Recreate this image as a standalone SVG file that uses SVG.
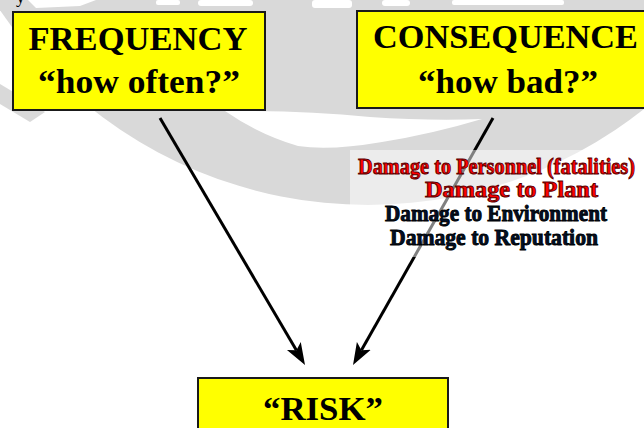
<svg xmlns="http://www.w3.org/2000/svg" width="644" height="428" viewBox="0 0 644 428">
  <defs>
    <style>
      .box { fill: #ffff00; stroke: #1a1a1a; stroke-width: 2; }
      .big { font-family: "Liberation Serif", "Times New Roman", serif; font-weight: bold; font-size: 34px; fill: #000; text-anchor: middle; }
      .dmg { font-family: "Liberation Serif", "Times New Roman", serif; font-weight: bold; font-size: 23px; stroke-width: 0.9; }
      .red { fill: #ff0000; stroke: #5a0000; }
      .dark { fill: #00102a; stroke: #000; }
      .conn { stroke: #000; stroke-width: 3; fill: none; marker-end: url(#head); }
      .wm { fill: #d9d9d9; }
      .wmw { fill: #ffffff; }
    </style>
    <marker id="head" markerUnits="userSpaceOnUse" markerWidth="24" markerHeight="18" viewBox="0 -9 24 18" refX="5" refY="0" orient="auto">
      <path d="M22,0 L0,-8 L5,0 L0,8 Z" fill="#000"/>
    </marker>
  </defs>

  <rect width="644" height="428" fill="#ffffff"/>

  <!-- faint background watermark -->
  <g id="watermark">
    <circle class="wm" cx="368" cy="-240" r="445"/>
    <path class="wm" d="M0 84 L20 96 L45 112 L30 122 L0 104 Z"/>
    <path class="wmw" d="M225 111 Q300 110 370 117 Q430 121 482 119 Q432 134 382 142 Q330 151 298 146 Q258 134 225 111 Z"/>
    <path class="wmw" d="M28 0 L96 0 L80 6 L36 8 Z"/>
    <rect class="wmw" x="156" y="0" width="24" height="5" rx="2"/>
    <rect class="wmw" x="198" y="0" width="55" height="6" rx="3"/>
    <rect class="wmw" x="312" y="0" width="40" height="8" rx="3"/>
    <rect class="wmw" x="382" y="0" width="28" height="6" rx="3"/>
    <rect class="wmw" x="452" y="0" width="112" height="5" rx="2"/>
  </g>

  <text x="16" y="3" font-family="Liberation Serif, serif" font-size="18" fill="#000">y</text>

  <g id="connectors">
    <line class="conn" x1="160" y1="118" x2="296.4" y2="350.3"/>
    <line class="conn" x1="493" y1="118" x2="361.4" y2="350.2"/>
  </g>

  <!-- translucent panel behind the consequence list -->
  <rect x="350" y="150" width="294" height="107" fill="#ffffff" opacity="0.5"/>

  <g id="consequences">
    <text class="dmg red" x="358" y="174" textLength="277" lengthAdjust="spacingAndGlyphs">Damage to Personnel (fatalities)</text>
    <text class="dmg red" x="425" y="197" textLength="173" lengthAdjust="spacingAndGlyphs">Damage to Plant</text>
    <text class="dmg dark" x="385" y="221" textLength="222" lengthAdjust="spacingAndGlyphs">Damage to Environment</text>
    <text class="dmg dark" x="390" y="245" textLength="208" lengthAdjust="spacingAndGlyphs">Damage to Reputation</text>
  </g>

  <g id="frequency">
    <rect class="box" x="13" y="12" width="252" height="98"/>
    <text class="big" x="138" y="50" textLength="219" lengthAdjust="spacingAndGlyphs">FREQUENCY</text>
    <text class="big" x="139" y="93" textLength="202" lengthAdjust="spacingAndGlyphs">“how often?”</text>
  </g>

  <g id="consequence">
    <rect class="box" x="357" y="11" width="300" height="97"/>
    <text class="big" x="505.5" y="48" textLength="265" lengthAdjust="spacingAndGlyphs">CONSEQUENCE</text>
    <text class="big" x="508" y="93" textLength="180" lengthAdjust="spacingAndGlyphs">“how bad?”</text>
  </g>

  <g id="risk">
    <rect class="box" x="198" y="378" width="250" height="60"/>
    <text class="big" x="323" y="420" textLength="120" lengthAdjust="spacingAndGlyphs">“RISK”</text>
  </g>
</svg>
